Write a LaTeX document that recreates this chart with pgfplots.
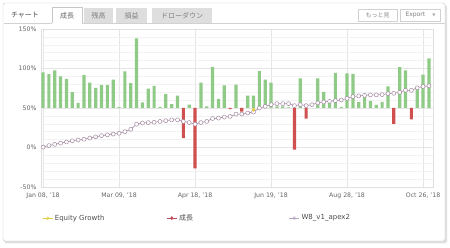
\documentclass[border=0pt]{standalone}
\usepackage{pgfplots}
\usepackage{pgfplotstable}
\pgfplotsset{compat=1.18}
\usepackage{fontspec}
\setmainfont{DejaVu Sans}
\newfontfamily\jp{Noto Sans CJK JP}
\definecolor{barG}{HTML}{8FCB86}
\definecolor{barR}{HTML}{D05050}
\definecolor{lineC}{HTML}{A38AA1}
\definecolor{tickC}{HTML}{666666}
\definecolor{eqC}{HTML}{E2D048}
\definecolor{grC}{HTML}{C24A5E}
\definecolor{apC}{HTML}{BBA6C2}

% bar values relative to the 50% baseline
\pgfplotstableread{
i r
0 45
1 43
2 47.5
3 40
4 37
5 20
6 6.5
7 42
8 32
9 25.5
10 29
11 29
12 36
13 1
14 46.5
15 31.5
16 88
17 7
18 24.5
19 28
20 1.5
21 17.5
22 5
23 15.8
25 4.4
27 32
28 2
29 52
30 11.6
31 28.5
33 29.5
35 15.8
36 15.8
37 46.6
38 36
39 32
40 2
41 2
42 0.8
44 37.5
47 37.5
48 20.5
49 6.5
50 44.5
51 1
52 43.7
53 43.3
54 7.4
55 14.8
56 9
57 4
58 7.6
59 27.3
61 51.7
62 47.5
64 26
65 42.4
66 62.7
}\posbars
\pgfplotstableread{
i r
24 -38
26 -76.5
32 -1.5
34 -4.5
43 -52.7
45 -13.3
60 -20
63 -14.3
}\negbars
% cumulative growth line (percent)
\pgfplotstableread{
i v
0 0.5
1 2.5
2 4
3 5.5
4 7
5 8.5
6 9.5
7 10.5
8 12
9 13.5
10 15
11 16
12 17
13 18
14 20
15 23
16 29.5
17 31
18 31.5
19 32
20 33
21 34
22 35
23 35
24 33
25 31.6
26 29.6
27 31.6
28 33
29 36.7
30 37.2
31 38.5
32 39.3
33 42.3
34 42.3
35 43.6
36 44.9
37 50
38 52
39 54.2
40 55.5
41 55.5
42 55.5
43 53
44 54.2
45 53
46 54.2
47 56.4
48 57.7
49 58.4
50 59.3
51 60.2
52 62.2
53 64.4
54 65.3
55 66
56 66.6
57 66.6
58 67
59 68.2
60 68.6
61 69.9
62 72.4
63 72.4
64 75.5
65 77.2
66 78
}\linedata

\begin{document}
\begin{tikzpicture}[x=1pt,y=1pt]
\useasboundingbox (0,0) rectangle (450,-248);
% panel
\fill[black!12, rounded corners=2] (4.5,-5) rectangle (447,-243.5);
\fill[white, draw=black!22, rounded corners=2] (3,-3) rectangle (445,-241);
% tab bar
\draw[black!18] (3.5,-23.5) -- (444.5,-23.5);
\node[font=\jp\fontsize{7}{8}\selectfont, text=black!70] at (25,-15) {チャート};
\fill[white] (52,-7) rectangle (82,-24);
\draw[black!22] (52,-23.5) -- (52,-7) -- (82,-7) -- (82,-23.5);
\node[font=\jp\fontsize{7}{8}\selectfont, text=black!60] at (67,-15.5) {成長};
\fill[black!13] (84,-8) rectangle (113,-23);
\node[font=\jp\fontsize{7}{8}\selectfont, text=black!50] at (98.5,-15.5) {残高};
\fill[black!13] (116,-8) rectangle (147,-23);
\node[font=\jp\fontsize{7}{8}\selectfont, text=black!50] at (131.5,-15.5) {損益};
\fill[black!13] (152,-8) rectangle (212,-23);
\node[font=\jp\fontsize{7}{8}\selectfont, text=black!50] at (182,-15.5) {ドローダウン};
% buttons
\draw[black!18, fill=white] (358,-9) rectangle (397,-21);
\node[font=\jp\fontsize{6}{7}\selectfont, text=black!45] at (377.5,-15) {もっと見};
\draw[black!18, fill=white] (400,-9) rectangle (440,-21);
\node[font=\fontsize{6}{7}\selectfont, text=black!50, anchor=west] at (402,-15) {Export};
\node[font=\fontsize{4}{5}\selectfont, text=black!35] at (434,-15) {▼};

\begin{axis}[
  at={(41pt,-187pt)}, anchor=south west,
  scale only axis, width=392pt, height=158pt,
  xmin=-0.35, xmax=66.7, ymin=-100, ymax=100,
  clip=false,
  axis line style={draw=black!12},
  xtick={0,13,26,39,52,65},
  xticklabels={{Jan 08, '18},{Mar 09, '18},{Apr 18, '18},{Jun 19, '18},{Aug 28, '18},{Oct 26, '18}},
  ytick={-100,-50,0,50,100},
  yticklabels={-50\%,0\%,50\%,100\%,150\%},
  minor ytick={-90,-80,-70,-60,-40,-30,-20,-10,10,20,30,40,60,70,80,90},
  xmajorgrids, ymajorgrids, yminorgrids,
  major grid style={draw=black!10},
  minor grid style={draw=black!5},
  major tick length=0pt, minor tick length=0pt,
  tick label style={font=\fontsize{6.2}{7}\selectfont, text=tickC},
  xticklabel style={yshift=-2pt},
  yticklabel style={xshift=-1pt},
  legend columns=3,
  legend style={at={(0.003,-0.197)}, anchor=west, draw=none, fill=none,
    font=\fontsize{7}{8}\selectfont, text=black!70, inner sep=0pt,
    /tikz/column 2/.style={column sep=60pt},
    /tikz/column 4/.style={column sep=94pt}},
  legend image code/.code={\draw[mark repeat=2,mark phase=2,#1] plot coordinates {(0pt,0pt) (5pt,0pt) (10pt,0pt)};},
]
\addplot[ybar, bar width=3.2pt, bar shift=0pt, fill=barG, draw=none, forget plot] table[x=i,y=r] {\posbars};
\addplot[ybar, bar width=3.2pt, bar shift=0pt, fill=barR, draw=none, forget plot] table[x=i,y=r] {\negbars};
\addplot[color=lineC, line width=0.6pt, mark=*, mark size=2pt, mark options={fill=white, draw=lineC, line width=0.5pt}, forget plot] table[x=i, y expr=\thisrow{v}-50] {\linedata};
\addplot[only marks, mark=*, mark size=1.6pt, color=eqC!80!orange, mark options={fill=eqC}, forget plot] coordinates {(36,-2.2)};
\addlegendimage{color=eqC, line width=0.5pt, mark=o, mark size=1.4pt}
\addlegendentry{Equity Growth}
\addlegendimage{color=grC, line width=0.5pt, mark=diamond*, mark size=1.6pt}
\addlegendentry{{\jp 成長}}
\addlegendimage{color=apC, line width=0.5pt, mark=o, mark size=1.4pt}
\addlegendentry{W8\_v1\_apex2}
\end{axis}
\end{tikzpicture}
\end{document}
